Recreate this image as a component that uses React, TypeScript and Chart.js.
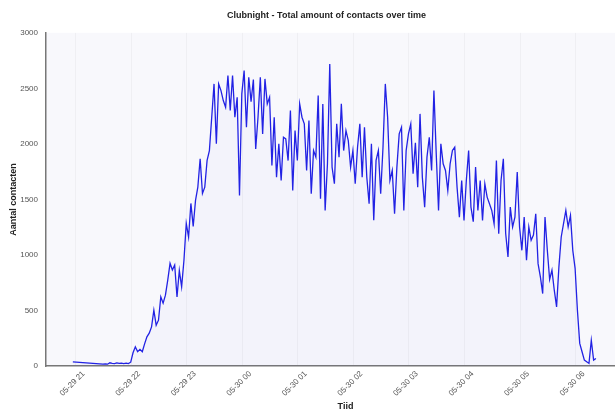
import { useEffect, useRef } from 'react';
import { Chart, registerables } from 'chart.js';

Chart.register(...registerables);

// samples every 2.5 minutes, first one at 20:57 (minutes relative to 21:00)
const startMinute = -3;
const stepMinutes = 2.5;

const contacts: (number | null)[] = [
  38, null, null, null, null, null, null, null, null, null,
  null, null, null, 18, 20, 17, 30, 25, 22, 28,
  24, 27, 23, 26, 22, 35, 120, 173, 129, 150,
  129, 200, 263, 296, 353, 503, 368, 413, 623, 566,
  638, 773, 925, 865, 910, 623, 860, 713, 952, 1285,
  1162, 1464, 1257, 1491, 1611, 1866, 1554, 1611, 1851, 1940,
  2240, 2540, 2001, 2540, 2480, 2390, 2330, 2615, 2300, 2615,
  2240, 2420, 1536, 2450, 2660, 2150, 2600, 2380, 2580, 1955,
  2240, 2600, 2090, 2585, 2360, 2420, 1806, 2240, 1701, 2001,
  1671, 2060, 2045, 1850, 2300, 1581, 2120, 1851, 2360, 2240,
  2180, 1761, 2210, 1551, 1940, 1881, 2435, 1506, 2360, 1401,
  1821, 2720, 1791, 1641, 2180, 1881, 2360, 1940, 2120, 2030,
  1791, 1940, 1641, 1970, 2180, 1701, 2150, 1701, 1461, 2001,
  1312, 1851, 1940, 1551, 1970, 2540, 2240, 1671, 1761, 1371,
  1791, 2090, 2150, 1401, 1940, 2090, 2180, 1731, 2010, 1611,
  2270, 1701, 1431, 1881, 2060, 1761, 2480, 1911, 1401, 2000,
  1821, 1761, 1581, 1821, 1941, 1970, 1611, 1341, 1671, 1311,
  1671, 1941, 1431, 1300, 1791, 1401, 1671, 1311, 1641, 1521,
  1461, 1401, 1281, 1851, 1192, 1671, 1866, 1195, 982, 1431,
  1252, 1341, 1746, 1252, 1042, 1341, 952, 1252, 1132, 1180,
  1371, 922, 803, 653, 1341, 1042, 780, 863, 683, 533,
  893, 1162, 1282, 1401, 1252, 1356, 1042, 880, 503, 204,
  129, 54, 39, 24, 233, 54, 69,
];

const tickLabels = [
  '05-29 21', '05-29 22', '05-29 23', '05-30 00', '05-30 01',
  '05-30 02', '05-30 03', '05-30 04', '05-30 05', '05-30 06',
];

const plotBackground = {
  id: 'plotBackground',
  beforeDraw(chart: Chart) {
    const { ctx, chartArea } = chart;
    ctx.save();
    ctx.fillStyle = '#f8f8fc';
    ctx.fillRect(chartArea.left, chartArea.top, chartArea.width, chartArea.height);
    ctx.restore();
  },
};

export default function App() {
  const chartRef = useRef<HTMLCanvasElement | null>(null);

  useEffect(() => {
    if (!chartRef.current) return;
    const ctx = chartRef.current.getContext('2d');
    if (!ctx) return;

    Chart.defaults.font.family = '"Liberation Sans", Arial, sans-serif';

    const points = contacts.map((v, i) => ({ x: startMinute + i * stepMinutes, y: v }));

    const chartInstance = new Chart(ctx, {
      type: 'line',
      data: {
        datasets: [
          {
            label: 'Contacten',
            data: points as any,
            borderColor: '#2222e4',
            borderWidth: 1.3,
            backgroundColor: 'rgba(40, 40, 230, 0.025)',
            fill: 'origin',
            pointRadius: 0,
            tension: 0,
            spanGaps: true,
          },
        ],
      },
      options: {
        responsive: false,
        animation: false,
        layout: { padding: { left: 8, right: 15, top: 4, bottom: 0 } },
        plugins: {
          legend: { display: false },
          tooltip: { enabled: false },
          title: {
            display: true,
            text: 'Clubnight - Total amount of contacts over time',
            color: '#222',
            font: { size: 9, weight: 'bold' },
            padding: { top: 6, bottom: 12 },
          },
        },
        scales: {
          x: {
            type: 'linear',
            min: -32,
            max: 615,
            afterBuildTicks: (scale: any) => {
              scale.ticks = tickLabels.map((_, i) => ({ value: i * 60 }));
            },
            ticks: {
              autoSkip: false,
              minRotation: 45,
              maxRotation: 45,
              padding: 3,
              labelOffset: 8,
              color: '#555',
              font: { size: 8 },
              callback: (_value: any, index: number) => tickLabels[index] ?? '',
            },
            grid: { color: 'rgba(0, 0, 0, 0.035)', drawTicks: false, tickLength: 0 },
            border: { color: '#777', width: 1.5 },
            title: {
              display: true,
              text: 'Tiid',
              color: '#222',
              font: { size: 9, weight: 'bold' },
              padding: { top: 0, bottom: 0 },
            },
          },
          y: {
            min: 0,
            max: 3000,
            afterFit: (scale: any) => {
              scale.width = 38;
            },
            ticks: {
              stepSize: 500,
              padding: 8,
              color: '#555',
              font: { size: 8 },
              callback: (value: any) => String(value),
            },
            grid: { display: false, drawTicks: false, tickLength: 0 },
            border: { color: '#777', width: 1.5 },
            title: {
              display: true,
              text: 'Aantal contacten',
              color: '#222',
              font: { size: 9, weight: 'bold' },
              padding: { top: 0, bottom: 2 },
            },
          },
        },
      },
      plugins: [plotBackground],
    });

    return () => chartInstance.destroy();
  }, []);

  return (
    <div style={{ position: 'fixed', left: 0, top: 0, width: 615, height: 412, overflow: 'hidden', background: '#fff' }}>
      <canvas ref={chartRef} width={660} height={412}></canvas>
    </div>
  );
}
